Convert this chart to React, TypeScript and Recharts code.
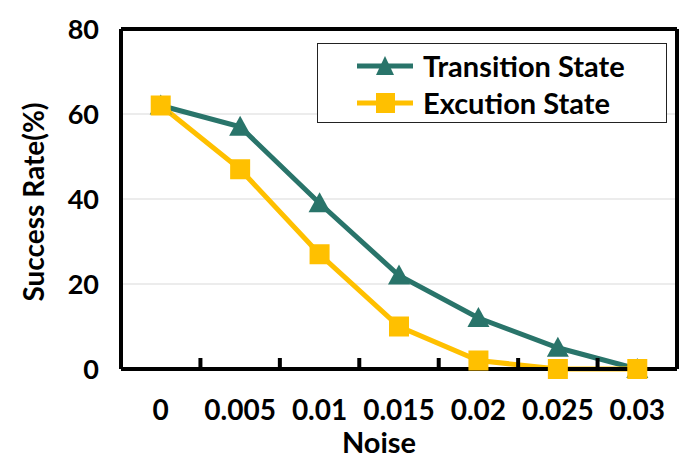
import { LineChart, Line, XAxis, YAxis, CartesianGrid, Legend } from 'recharts'

const noiseLabels = ['0', '0.005', '0.01', '0.015', '0.02', '0.025', '0.03']
const transitionState = [62, 57, 39, 22, 12, 5, 0]
const excutionState = [62, 47, 27, 10, 2, 0, 0]
const yTicks = [0, 20, 40, 60, 80]
const seriesOrder = ['transition', 'excution']

const data = noiseLabels.map((noise, i) => ({
  noise,
  transition: transitionState[i],
  excution: excutionState[i],
}))

const TEAL = '#29746A'
const GOLD = '#FFC000'
const FONT = 'Lato, "Open Sans", sans-serif'

const W = 697
const H = 468
const MARGIN = { top: 29, right: 20, bottom: 0, left: 0 }
const Y_AXIS_W = 121
const X_AXIS_H = 99
const PLOT_W = W - MARGIN.left - MARGIN.right - Y_AXIS_W
const HALF_BAND = PLOT_W / noiseLabels.length / 2

function XTick(props: any) {
  const { x, y, payload, index, visibleTicksCount } = props
  return (
    <g>
      <text
        x={x}
        y={y + 51}
        textAnchor="middle"
        fontSize={28}
        fontWeight={700}
        fontFamily={FONT}
        fill="#000"
      >
        {payload.value}
      </text>
      {index < visibleTicksCount - 1 && (
        <line x1={x + HALF_BAND} x2={x + HALF_BAND} y1={y} y2={y - 11} stroke="#000" strokeWidth={4} />
      )}
    </g>
  )
}

function Triangle(props: any) {
  const { cx, cy } = props
  if (cx == null || cy == null) return <g />
  return <polygon points={`${cx},${cy - 11} ${cx - 11},${cy + 9} ${cx + 11},${cy + 9}`} fill={TEAL} />
}

function Square(props: any) {
  const { cx, cy } = props
  if (cx == null || cy == null) return <g />
  return <rect x={cx - 10} y={cy - 10} width={20} height={20} fill={GOLD} />
}

function LegendBox(props: any) {
  const items = [...(props.payload ?? [])].sort(
    (a: any, b: any) => seriesOrder.indexOf(a.dataKey) - seriesOrder.indexOf(b.dataKey)
  )
  return (
    <div
      style={{
        boxSizing: 'border-box',
        width: 350,
        height: 80,
        border: '1.5px solid #222',
        background: '#fff',
        paddingTop: 3,
        paddingLeft: 39,
      }}
    >
      {items.map((it: any) => {
        const tri = it.dataKey === 'transition'
        const color = tri ? TEAL : GOLD
        return (
          <div key={it.dataKey} style={{ display: 'flex', alignItems: 'center', height: 37 }}>
            <svg width={56} height={24}>
              <line x1={0} x2={56} y1={12} y2={12} stroke={color} strokeWidth={5} />
              {tri ? (
                <polygon points="28,2 19,21 37,21" fill={color} />
              ) : (
                <rect x={19} y={2} width={19} height={20} fill={color} />
              )}
            </svg>
            <span
              style={{
                marginLeft: 10,
                fontSize: 29,
                fontWeight: 700,
                fontFamily: FONT,
                color: '#000',
                lineHeight: 1,
              }}
            >
              {it.value}
            </span>
          </div>
        )
      })}
    </div>
  )
}

export default function App() {
  return (
    <div style={{ position: 'absolute', left: 0, top: 0, background: '#fff' }}>
      <LineChart width={W} height={H} data={data} margin={MARGIN} style={{ fontFamily: FONT }}>
        <CartesianGrid vertical={false} stroke="#D9D9D9" strokeWidth={1} />
        {/* top and right edges of the plot frame */}
        <CartesianGrid
          stroke="#000"
          strokeWidth={4}
          horizontalCoordinatesGenerator={({ offset }: any) => [offset.top]}
          verticalCoordinatesGenerator={({ offset }: any) => [offset.left + offset.width]}
        />
        <XAxis
          dataKey="noise"
          height={X_AXIS_H}
          padding={{ left: HALF_BAND, right: HALF_BAND }}
          tickLine={false}
          tickSize={0}
          tickMargin={0}
          interval={0}
          axisLine={{ stroke: '#000', strokeWidth: 4 }}
          tick={(p: any) => <XTick {...p} />}
          label={(p: any) => {
            const vb = p.viewBox
            return (
              <text
                x={vb.x + vb.width / 2 - 20}
                y={453}
                textAnchor="middle"
                fontSize={29}
                fontWeight={700}
                fontFamily={FONT}
                fill="#000"
              >
                Noise
              </text>
            )
          }}
        />
        <YAxis
          width={Y_AXIS_W}
          domain={[0, 80]}
          ticks={yTicks}
          tickLine={false}
          tickSize={0}
          tickMargin={22}
          axisLine={{ stroke: '#000', strokeWidth: 4 }}
          tick={{ fontSize: 27, fontWeight: 700, fill: '#000', fontFamily: FONT }}
          label={(p: any) => {
            const vb = p.viewBox
            const cy = vb.y + vb.height / 2 + 3
            return (
              <text
                x={33}
                y={cy}
                transform={`rotate(-90, 33, ${cy})`}
                textAnchor="middle"
                dominantBaseline="central"
                fontSize={28}
                fontWeight={700}
                fontFamily={FONT}
                fill="#000"
              >
                Success Rate(%)
              </text>
            )
          }}
        />
        <Legend
          layout="vertical"
          align="center"
          verticalAlign="middle"
          wrapperStyle={{ left: 317, top: 43, width: 350, height: 80 }}
          content={(p: any) => <LegendBox {...p} />}
        />
        <Line
          dataKey="transition"
          name="Transition State"
          stroke={TEAL}
          strokeWidth={5}
          dot={(p: any) => <Triangle key={`t${p.index}`} {...p} />}
          activeDot={false}
          isAnimationActive={false}
        />
        <Line
          dataKey="excution"
          name="Excution State"
          stroke={GOLD}
          strokeWidth={5}
          dot={(p: any) => <Square key={`s${p.index}`} {...p} />}
          activeDot={false}
          isAnimationActive={false}
        />
      </LineChart>
    </div>
  )
}
